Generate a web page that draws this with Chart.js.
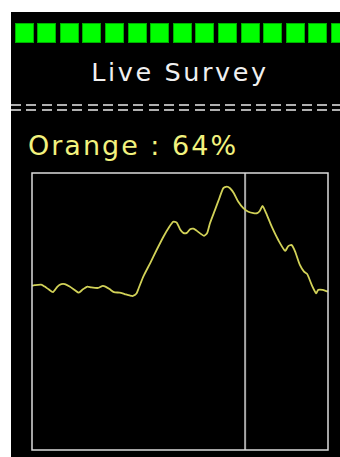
<!DOCTYPE html>
<html>
<head>
<meta charset="utf-8">
<script src="https://cdn.jsdelivr.net/npm/chart.js@4.4.1/dist/chart.umd.min.js"></script>
<style>
  body { margin: 0; background: #fff; width: 340px; height: 457px; overflow: hidden; position: relative; font-family: "DejaVu Sans", Verdana, sans-serif; }
  #panel { position: absolute; left: 11px; top: 12px; width: 340px; height: 445px; background: #000; overflow: hidden; }
  #leds { position: absolute; left: 3.7px; top: 11px; white-space: nowrap; }
  .led { position: absolute; top: 0; width: 17px; height: 18px; background: #00ff00; border: 1px solid #00b000; }
  #title { position: absolute; left: 0; width: 338px; top: 44px; text-align: center; color: #f0f0f0; font-size: 25.5px; letter-spacing: 2.6px; line-height: 32px; }
  #dashes { position: absolute; left: 0; top: 92px; width: 340px; height: 7px;
    background:
      repeating-linear-gradient(90deg, #b0b0b0 0 10px, transparent 10px 15.3px) 0 0 / 100% 2px no-repeat,
      repeating-linear-gradient(90deg, #b0b0b0 0 10px, transparent 10px 15.3px) 0 5px / 100% 2px no-repeat; }
  #reading { position: absolute; left: 17px; top: 117px; color: #f2f27e; font-size: 27px; letter-spacing: 2px; line-height: 34px; }
  #chartBox { position: absolute; left: 19px; top: 159px; width: 300px; height: 281px; }
</style>
</head>
<body>
<div id="panel">
  <div id="leds"></div>
  <div id="title">Live Survey</div>
  <div id="dashes"></div>
  <div id="reading">Orange : 64%</div>
  <div id="chartBox"><canvas id="surveyChart"></canvas></div>
</div>
<script>
// survey trace: time (s) and share for Orange (%)
const times = [
  0, 0.9, 3.1, 4.3, 5.6, 7.1, 8.6, 9.9, 11.1, 12.7, 14.4, 15.8, 17.2, 18.7, 20.0,
  22.3, 23.7, 24.8, 26.3, 27.7, 29.6, 31.3, 33.0, 34.1, 35.3, 36.0, 37.6, 39.9,
  42.1, 44.4, 46.4, 47.7, 48.9, 50.0, 51.1, 52.3, 53.4, 54.5, 55.6, 56.8, 58.1,
  59.2, 60.1, 61.8, 63.3, 64.6, 65.8, 66.9, 68.2, 69.7, 71.4, 73.1, 74.8, 76.1,
  77.0, 77.9, 79.1, 81.0, 83.2, 85.5, 86.6, 87.7, 88.9, 90.5, 91.9, 93.0, 94.5,
  96.0, 96.7, 98.2, 99.6, 100
];
const orangeShare = [
  59.3, 59.5, 59.7, 59.0, 58.0, 57.0, 59.0, 59.9, 59.9, 59.0, 57.8, 56.8, 58.0, 59.0, 58.7,
  58.5, 59.2, 59.0, 58.0, 57.0, 56.8, 56.3, 55.8, 55.6, 56.5, 58.3, 62.6, 67.4,
  72.2, 77.0, 80.6, 82.4, 82.1, 79.7, 78.4, 78.4, 79.7, 79.9, 79.2, 78.2, 77.3,
  78.4, 81.8, 86.6, 90.9, 94.5, 95.1, 94.5, 92.7, 89.6, 87.3, 86.0, 85.5, 85.5,
  86.4, 88.1, 85.5, 80.6, 75.8, 71.9, 73.6, 74.0, 71.6, 66.8, 64.4, 63.5, 59.6,
  56.6, 57.8, 57.8, 57.3, 57.2
];
const cursorTime = 72;
const ledCount = 15;

const leds = document.getElementById('leds');
for (let i = 0; i < ledCount; i++) {
  const d = document.createElement('div');
  d.className = 'led';
  d.style.left = (i * 22.6) + 'px';
  leds.appendChild(d);
}

const frameAndCursor = {
  id: 'frameAndCursor',
  beforeDatasetsDraw(chart) {
    const { ctx, chartArea: a, scales } = chart;
    const cx = scales.x.getPixelForValue(cursorTime);
    ctx.save();
    ctx.strokeStyle = '#a8a8a8';
    ctx.lineWidth = 2;
    ctx.beginPath();
    ctx.moveTo(cx, a.top);
    ctx.lineTo(cx, a.bottom);
    ctx.stroke();
    ctx.restore();
  },
  afterDraw(chart) {
    const { ctx, chartArea: a } = chart;
    ctx.save();
    ctx.strokeStyle = '#dcdcdc';
    ctx.lineWidth = 1.5;
    ctx.strokeRect(a.left, a.top, a.right - a.left, a.bottom - a.top);
    ctx.restore();
  }
};

new Chart(document.getElementById('surveyChart'), {
  type: 'line',
  data: {
    datasets: [{
      label: 'Orange',
      data: times.map((t, i) => ({ x: t, y: orangeShare[i] })),
      borderColor: '#d2d258',
      borderWidth: 1.8,
      pointRadius: 0,
      tension: 0.2,
      fill: false
    }]
  },
  options: {
    responsive: true,
    maintainAspectRatio: false,
    animation: false,
    layout: { padding: 2 },
    plugins: { legend: { display: false }, tooltip: { enabled: false } },
    scales: {
      x: { type: 'linear', min: 0, max: 100, display: false },
      y: { min: 0, max: 100, display: false }
    }
  },
  plugins: [frameAndCursor]
});
</script>
</body>
</html>
